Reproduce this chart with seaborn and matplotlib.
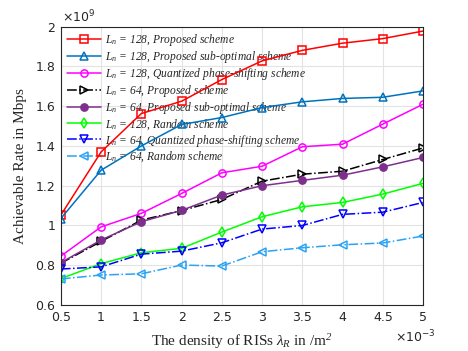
import matplotlib
matplotlib.use("Agg")
import matplotlib.pyplot as plt
import seaborn as sns
import pandas as pd

# density of RISs (x 1e-3 /m^2)
density = [0.5, 1, 1.5, 2, 2.5, 3, 3.5, 4, 4.5, 5]

# achievable rate (x 1e9 Mbps)
rate_128_prop = [1.052, 1.370, 1.563, 1.625, 1.734, 1.828, 1.881, 1.917, 1.940, 1.978]
rate_128_subopt = [1.035, 1.278, 1.400, 1.508, 1.543, 1.593, 1.622, 1.639, 1.645, 1.677]
rate_128_quant = [0.846, 0.993, 1.061, 1.161, 1.265, 1.298, 1.396, 1.409, 1.510, 1.610]
rate_64_prop = [0.810, 0.920, 1.027, 1.075, 1.131, 1.223, 1.258, 1.273, 1.332, 1.390]
rate_64_subopt = [0.813, 0.927, 1.019, 1.076, 1.153, 1.200, 1.227, 1.253, 1.295, 1.342]
rate_128_rand = [0.733, 0.808, 0.863, 0.885, 0.967, 1.044, 1.094, 1.116, 1.158, 1.212]
rate_64_quant = [0.781, 0.792, 0.856, 0.871, 0.913, 0.982, 1.000, 1.056, 1.067, 1.116]
rate_64_rand = [0.731, 0.751, 0.757, 0.801, 0.796, 0.868, 0.888, 0.903, 0.912, 0.947]

labels = [r"$L_n$ = 128, Proposed scheme",
          r"$L_n$ = 128, Proposed sub-optimal scheme",
          r"$L_n$ = 128, Quantized phase-shifting scheme",
          r"$L_n$ = 64, Proposed scheme",
          r"$L_n$ = 64, Proposed sub-optimal scheme",
          r"$L_n$ = 128, Random scheme",
          r"$L_n$ = 64, Quantized phase-shifting scheme",
          r"$L_n$ = 64, Random scheme"]
series = [rate_128_prop, rate_128_subopt, rate_128_quant, rate_64_prop,
          rate_64_subopt, rate_128_rand, rate_64_quant, rate_64_rand]

colors = ["#ff0000", "#0072bd", "#ff00ff", "#000000",
          "#7e2f8e", "#00ff00", "#0000ff", "#2aa3f5"]
markers = ["s", "^", "o", ">", "o", "d", "v", "<"]
styles = ["-", "-", "-", "-.", "-", "-", "-.", "-."]
filled = [False, False, False, False, True, False, False, False]

sns.set_style("whitegrid")
plt.rcParams["mathtext.fontset"] = "custom"
plt.rcParams["mathtext.it"] = "Liberation Serif:italic"
plt.rcParams["mathtext.rm"] = "Liberation Serif:italic"
plt.rcParams["font.family"] = ["DejaVu Sans"]

fig = plt.figure(figsize=(4.68, 3.51), dpi=100)
ax = fig.add_axes([0.130, 0.131, 0.774, 0.793])

for i in range(len(series)):
    df = pd.DataFrame({"x": density, "y": series[i]})
    sns.lineplot(data=df, x="x", y="y", ax=ax, color=colors[i],
                 linestyle=styles[i], linewidth=1.1, marker=markers[i],
                 markersize=5.2, markeredgewidth=1.1, markeredgecolor=colors[i],
                 markerfacecolor=colors[i] if filled[i] else "none",
                 label=labels[i])

ax.set_xlim(0.5, 5)
ax.set_ylim(0.6, 2.0)
ax.set_xticks(density)
ax.set_xticklabels(["0.5", "1", "1.5", "2", "2.5", "3", "3.5", "4", "4.5", "5"])
yt = [0.6, 0.8, 1.0, 1.2, 1.4, 1.6, 1.8, 2.0]
ax.set_yticks(yt)
ax.set_yticklabels(["0.6", "0.8", "1", "1.2", "1.4", "1.6", "1.8", "2"])
ax.tick_params(labelsize=9, colors="#262626", length=0, pad=4)
ax.grid(True, color="#e3e3e3", linewidth=0.8)
for s in ax.spines.values():
    s.set_color("#262626")
    s.set_linewidth(0.8)

ax.set_xlabel(r"The density of RISs $\lambda_R$ in /m$^2$", family="Liberation Serif",
              fontsize=11, color="#262626", labelpad=6)
ax.set_ylabel("Achievable Rate in Mbps", family="Liberation Serif",
              fontsize=11, color="#262626", labelpad=6)

fig.text(0.133, 0.937, r"$\times\mathregular{10^{9}}$", fontsize=9, color="#262626",
         family="DejaVu Sans", math_fontfamily="dejavusans")
fig.text(0.845, 0.025, r"$\times\mathregular{10^{-3}}$", fontsize=9, color="#262626",
         family="DejaVu Sans", math_fontfamily="dejavusans")

leg = ax.legend(loc="upper left", frameon=False, handlelength=3.0,
                labelspacing=0.08, borderaxespad=0.3, handletextpad=0.3,
                borderpad=0.2,
                prop={"family": "Liberation Serif", "style": "italic", "size": 8.3})
leg.set_zorder(1)

fig.savefig("out.png", dpi=100)
